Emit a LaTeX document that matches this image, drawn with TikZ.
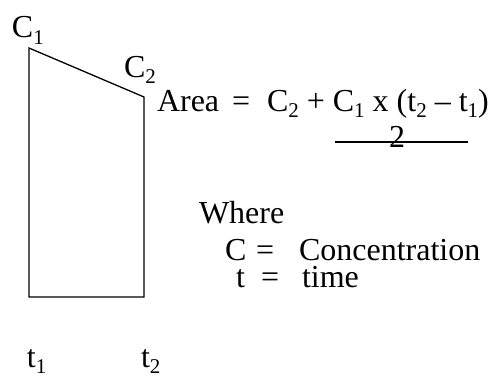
\documentclass[tikz,border=0pt]{standalone}
\usepackage{fontspec}
\setmainfont{Liberation Serif}
\newcommand\sbs[1]{\raisebox{-0.2em}{\fontsize{21}{21}\selectfont #1}}
\begin{document}
\begin{tikzpicture}[x=1pt,y=1pt,
  txt/.style={inner sep=0pt,outer sep=0pt,anchor=base west,font=\fontsize{32}{38}\selectfont},
  edge/.style={line width=1.3pt,line join=miter}]
\useasboundingbox (0,0) rectangle (493,376);
% trapezoid
\coordinate (tl) at (29,328);
\coordinate (tr) at (144,279);
\coordinate (br) at (144,79);
\coordinate (bl) at (29,79);
\draw[edge] (tl) -- (tr) -- (br) -- (bl) -- cycle;
% labels
\node[txt] (c1) at (12,338) {C\sbs{1}};
\node[txt] (c2) at (124,299) {C\sbs{2}};
\node[txt] (t1) at (27,9) {t\sbs{1}};
\node[txt] (t2) at (141,9) {t\sbs{2}};
% formula
\node[txt] (area) at (157,265) {Area};
\node[txt] (eq1) at (232,265) {=};
\node[txt] (expr) at (267,265) {C\sbs{2} + C\sbs{1} x (t\sbs{2} – t\sbs{1})};
\coordinate (fl) at (335,234);
\coordinate (fr) at (468,234);
\draw[line width=1.3pt] (fl) -- (fr);
\node[txt,anchor=base] (two) at (397,229) {2};
% legend
\node[txt] (where) at (199,153) {Where};
\node[txt] (cc) at (225,116) {C};
\node[txt] (eq2) at (256,116) {=};
\node[txt] (conc) at (299,116) {Concentration};
\node[txt] (tt) at (236,89) {t};
\node[txt] (eq3) at (261,89) {=};
\node[txt] (time) at (302,89) {time};
\end{tikzpicture}
\end{document}
